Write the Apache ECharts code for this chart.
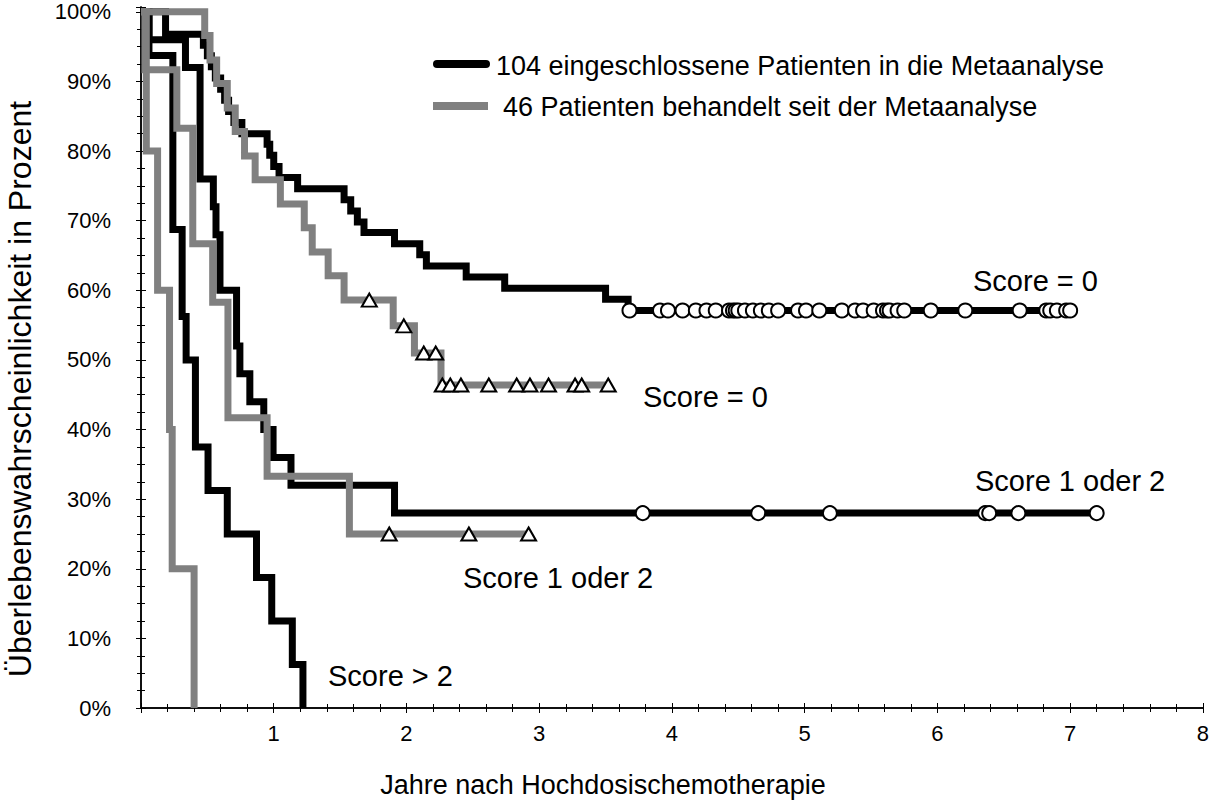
<!DOCTYPE html>
<html><head><meta charset="utf-8">
<script src="https://cdn.jsdelivr.net/npm/echarts@6/dist/echarts.min.js"></script>
<style>html,body{margin:0;padding:0;background:#fff}#c{width:1212px;height:803px}</style>
</head><body><div id="c"></div>
<script>
// ---- data (years after therapy, survival %) ----
const xTickLabels = ['1','2','3','4','5','6','7','8'];
const yTickLabels = ['0%','10%','20%','30%','40%','50%','60%','70%','80%','90%','100%'];

// Black, Score = 0 (104-patient meta-analysis group)
const blackScore0_t = [0,0.185,0.47,0.50,0.53,0.56,0.60,0.63,0.66,0.70,0.76,0.95,0.97,1.00,1.04,1.18,1.53,1.58,1.63,1.68,1.91,2.10,2.15,2.45,2.74,3.50,3.67,7.00];
const blackScore0_s = [100,96.8,95.2,93.7,92.1,90.5,88.9,87.3,85.7,84.1,82.5,81.0,79.4,77.8,76.2,74.6,73.0,71.4,69.8,68.3,66.7,65.1,63.5,61.9,60.3,58.7,57.1,57.1];
const blackScore0_cens_t = [3.68,3.91,3.97,4.08,4.18,4.26,4.33,4.43,4.46,4.48,4.50,4.55,4.61,4.67,4.73,4.80,4.95,5.01,5.11,5.28,5.38,5.44,5.52,5.59,5.62,5.64,5.70,5.75,5.95,6.21,6.62,6.82,6.85,6.90,6.97,7.00];
const blackScore0_cens_s = 57.1;

// Gray, Score = 0 (46 patients since the meta-analysis)
const grayScore0_t = [0,0.48,0.52,0.57,0.65,0.71,0.78,0.86,1.05,1.23,1.29,1.41,1.53,1.90,2.06,2.26,3.53];
const grayScore0_s = [100,96.6,93.1,89.7,86.2,82.8,79.3,75.9,72.4,69.0,65.5,62.1,58.6,54.9,51.0,46.4,46.4];
const grayScore0_cens_t = [1.72,1.98,2.13,2.22,2.27,2.33,2.41,2.62,2.83,2.93,3.07,3.27,3.32,3.52];
const grayScore0_cens_s = [58.6,54.9,51.0,51.0,46.4,46.4,46.4,46.4,46.4,46.4,46.4,46.4,46.4,46.4];

// Black, Score 1 oder 2
const blackScore12_t = [0,0.06,0.335,0.445,0.545,0.565,0.595,0.72,0.745,0.82,0.925,0.995,1.13,1.91,7.22];
const blackScore12_s = [100,96,92,76,72,68,60,52,48,44,40,36,32,28,28];
const blackScore12_cens_t = [3.78,4.65,5.19,6.36,6.39,6.61,7.20];
const blackScore12_cens_s = 28;

// Gray, Score 1 oder 2
const grayScore12_t = [0,0.03,0.27,0.39,0.54,0.655,0.95,1.57,2.93];
const grayScore12_s = [100,91.7,83.3,66.7,58.3,41.7,33.3,25,25];
const grayScore12_cens_t = [1.87,2.47,2.92];
const grayScore12_cens_s = 25;

// Black, Score > 2
const blackScore3_t = [0,0.06,0.24,0.31,0.34,0.41,0.505,0.65,0.87,0.985,1.14,1.22];
const blackScore3_s = [100,93.75,68.75,56.25,50,37.5,31.25,25,18.75,12.5,6.25,0];

// Gray, Score > 2
const grayScore3_t = [0,0.04,0.125,0.215,0.235,0.40];
const grayScore3_s = [100,80,60,40,20,0];

// ---- build ----
const FONT = "'Liberation Sans', Arial, sans-serif";
const BLACK = '#000000', GRAY = '#808080';
const pairs = (t, s) => t.map((x, i) => [x, Array.isArray(s) ? s[i] : s]);

function kmSeries(name, t, s, color) {
  return { name, type: 'line', step: 'end', data: pairs(t, s), symbol: 'none',
    lineStyle: { color, width: 7, cap: 'butt', join: 'miter' }, silent: true, z: color === GRAY ? 3 : 2,
    animation: false };
}
function censSeries(name, t, s, symbol, size) {
  return { name, type: 'scatter', data: pairs(t, s), symbol, symbolSize: size,
    itemStyle: { color: '#ffffff', borderColor: '#000000', borderWidth: 2, opacity: 1 }, z: 5, silent: true, animation: false };
}

const chart = echarts.init(document.getElementById('c'), null, { renderer: 'svg' });
const xAxisCommon = {
  type: 'value', min: 0, max: 8, interval: 1,
  axisLine: { show: true, lineStyle: { color: '#000', width: 1.5 } },
  axisTick: { show: true, inside: true, length: 5, lineStyle: { color: '#000', width: 1 } },
  minorTick: { show: true, splitNumber: 5, length: 4, lineStyle: { color: '#000', width: 1 } },
  splitLine: { show: false }
};
const yAxisCommon = {
  type: 'value', min: 0, max: 100.7, interval: 10,
  axisLine: { show: true, lineStyle: { color: '#000', width: 1.5 } },
  axisTick: { show: true, inside: true, length: 5, lineStyle: { color: '#000', width: 1 } },
  minorTick: { show: true, splitNumber: 4, length: 4, lineStyle: { color: '#000', width: 1 } },
  splitLine: { show: false }
};

chart.setOption({
  backgroundColor: '#ffffff',
  animation: false,
  grid: { left: 141, right: 4, top: 7, bottom: 95, containLabel: false },
  xAxis: [
    Object.assign({}, xAxisCommon, { position: 'bottom',
      axisLabel: { show: true, margin: 14, color: '#000', fontSize: 22, fontFamily: FONT,
        formatter: v => { const i = xTickLabels.indexOf(String(v)); return i >= 0 ? xTickLabels[i] : ''; } } }),
    Object.assign({}, xAxisCommon, { position: 'top', axisLabel: { show: false } })
  ],
  yAxis: [
    Object.assign({}, yAxisCommon, { position: 'left',
      axisLabel: { show: true, margin: 30, color: '#000', fontSize: 22, fontFamily: FONT,
        formatter: v => { const k = Math.round(v / 10); return (Math.abs(v - k * 10) < 1e-6 && yTickLabels[k]) ? yTickLabels[k] : ''; } } }),
    Object.assign({}, yAxisCommon, { position: 'right', axisLabel: { show: false } })
  ],
  series: [
    kmSeries('Score 0 (104)', blackScore0_t, blackScore0_s, BLACK),
    kmSeries('Score 1-2 (104)', blackScore12_t, blackScore12_s, BLACK),
    kmSeries('Score >2 (104)', blackScore3_t, blackScore3_s, BLACK),
    kmSeries('Score 0 (46)', grayScore0_t, grayScore0_s, GRAY),
    kmSeries('Score 1-2 (46)', grayScore12_t, grayScore12_s, GRAY),
    kmSeries('Score >2 (46)', grayScore3_t, grayScore3_s, GRAY),
    censSeries('cens0b', blackScore0_cens_t, blackScore0_cens_s, 'circle', 14),
    censSeries('cens12b', blackScore12_cens_t, blackScore12_cens_s, 'circle', 14),
    censSeries('cens0g', grayScore0_cens_t, grayScore0_cens_s, 'triangle', [15, 13]),
    censSeries('cens12g', grayScore12_cens_t, grayScore12_cens_s, 'triangle', [15, 13])
  ],
  graphic: [
    // legend
    { type: 'line', shape: { x1: 437, y1: 64, x2: 486, y2: 64 }, style: { stroke: BLACK, lineWidth: 8, lineCap: 'round' } },
    { type: 'text', x: 496, y: 66, style: { text: '104 eingeschlossene Patienten in die Metaanalyse', font: '27px ' + FONT, fill: '#000', textVerticalAlign: 'middle' } },
    { type: 'line', shape: { x1: 433, y1: 106, x2: 488, y2: 106 }, style: { stroke: GRAY, lineWidth: 8, lineCap: 'butt' } },
    { type: 'text', x: 503, y: 107, style: { text: '46 Patienten behandelt seit der Metaanalyse', font: '27px ' + FONT, fill: '#000', textVerticalAlign: 'middle' } },
    // curve annotations
    { type: 'text', x: 973, y: 281, style: { text: 'Score = 0', font: '29px ' + FONT, fill: '#000', textVerticalAlign: 'middle' } },
    { type: 'text', x: 643, y: 397, style: { text: 'Score = 0', font: '29px ' + FONT, fill: '#000', textVerticalAlign: 'middle' } },
    { type: 'text', x: 975, y: 481, style: { text: 'Score 1 oder 2', font: '29px ' + FONT, fill: '#000', textVerticalAlign: 'middle' } },
    { type: 'text', x: 463, y: 578, style: { text: 'Score 1 oder 2', font: '29px ' + FONT, fill: '#000', textVerticalAlign: 'middle' } },
    { type: 'text', x: 328, y: 676, style: { text: 'Score > 2', font: '29px ' + FONT, fill: '#000', textVerticalAlign: 'middle' } },
    // axis titles
    { type: 'text', x: 603, y: 785, style: { text: 'Jahre nach Hochdosischemotherapie', font: '27px ' + FONT, fill: '#000', textAlign: 'center', textVerticalAlign: 'middle' } },
    { type: 'text', x: 20, y: 389, rotation: Math.PI / 2, style: { text: 'Überlebenswahrscheinlichkeit in Prozent', font: '32px ' + FONT, fill: '#000', textAlign: 'center', textVerticalAlign: 'middle' } }
  ]
});
</script></body></html>
